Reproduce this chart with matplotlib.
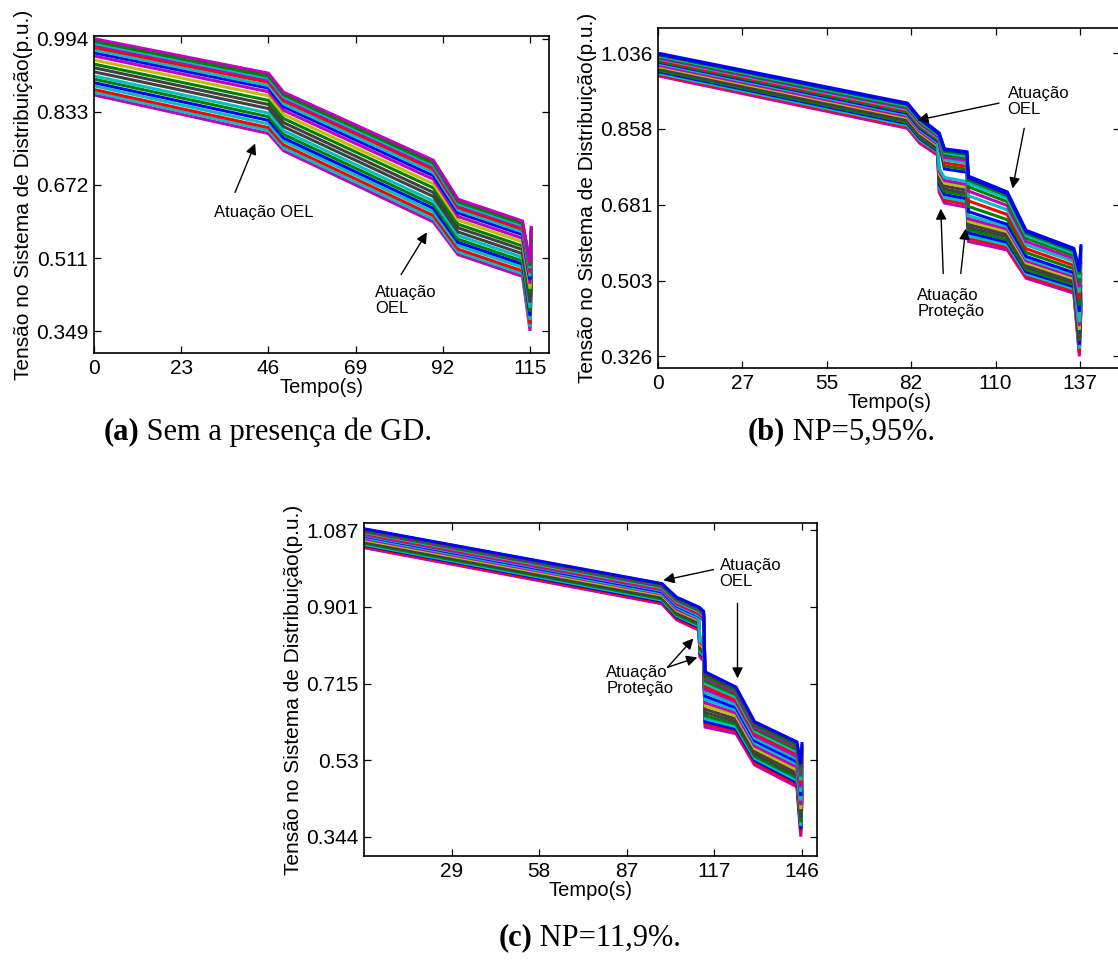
import matplotlib
matplotlib.use("Agg")
import matplotlib.pyplot as plt

plt.rcParams['font.family'] = ['Liberation Sans', 'DejaVu Sans']

# ---------------- data ----------------
# Panel (a): Sem a presença de GD
a_t = [0, 46, 50, 89.5, 96, 113, 115.0, 115.3]
a_v = [
    [0.870, 0.785, 0.747, 0.590, 0.518, 0.470, 0.350, 0.445],
    [0.876, 0.792, 0.753, 0.597, 0.524, 0.476, 0.358, 0.452],
    [0.882, 0.798, 0.760, 0.604, 0.530, 0.482, 0.365, 0.458],
    [0.890, 0.806, 0.768, 0.612, 0.538, 0.490, 0.374, 0.466],
    [0.897, 0.814, 0.775, 0.620, 0.545, 0.497, 0.383, 0.474],
    [0.905, 0.822, 0.783, 0.628, 0.552, 0.504, 0.392, 0.482],
    [0.912, 0.830, 0.791, 0.636, 0.560, 0.512, 0.401, 0.490],
    [0.921, 0.840, 0.800, 0.646, 0.568, 0.520, 0.412, 0.500],
    [0.930, 0.849, 0.809, 0.655, 0.577, 0.529, 0.422, 0.509],
    [0.938, 0.858, 0.818, 0.665, 0.585, 0.537, 0.433, 0.518],
    [0.947, 0.868, 0.827, 0.674, 0.594, 0.546, 0.443, 0.528],
    [0.956, 0.877, 0.836, 0.684, 0.602, 0.554, 0.454, 0.537],
    [0.963, 0.885, 0.844, 0.692, 0.610, 0.562, 0.463, 0.545],
    [0.969, 0.891, 0.850, 0.699, 0.616, 0.568, 0.470, 0.551],
    [0.975, 0.898, 0.857, 0.706, 0.622, 0.574, 0.478, 0.558],
    [0.980, 0.903, 0.862, 0.711, 0.627, 0.579, 0.484, 0.563],
    [0.984, 0.907, 0.866, 0.715, 0.630, 0.582, 0.488, 0.567],
    [0.988, 0.911, 0.870, 0.719, 0.634, 0.586, 0.493, 0.571],
    [0.992, 0.915, 0.873, 0.723, 0.638, 0.590, 0.497, 0.575],
    [0.994, 0.918, 0.876, 0.726, 0.640, 0.592, 0.500, 0.578],
]
a_xticks = [0, 23, 46, 69, 92, 115]
a_xticklabels = ['0', '23', '46', '69', '92', '115']
a_yticks = [0.349, 0.51025, 0.6715, 0.83275, 0.994]
a_yticklabels = ['0.349', '0.511', '0.672', '0.833', '0.994']

# Panel (b): NP=5,95%
b_t = [0, 81, 85, 90.8, 91.3, 93, 100.3, 100.8, 113.4, 119.5, 135, 136.8, 137.3]
b_v = [
    [0.983, 0.860, 0.825, 0.797, 0.710, 0.685, 0.675, 0.595, 0.575, 0.509, 0.474, 0.326, 0.430],
    [0.986, 0.864, 0.829, 0.800, 0.716, 0.692, 0.682, 0.602, 0.581, 0.514, 0.479, 0.335, 0.435],
    [0.989, 0.867, 0.832, 0.804, 0.722, 0.698, 0.688, 0.608, 0.587, 0.519, 0.484, 0.344, 0.440],
    [0.993, 0.871, 0.836, 0.807, 0.728, 0.705, 0.695, 0.615, 0.593, 0.524, 0.489, 0.353, 0.445],
    [0.996, 0.874, 0.839, 0.810, 0.734, 0.712, 0.702, 0.622, 0.599, 0.529, 0.494, 0.362, 0.450],
    [0.999, 0.878, 0.843, 0.814, 0.741, 0.718, 0.708, 0.628, 0.606, 0.535, 0.498, 0.370, 0.455],
    [1.002, 0.881, 0.846, 0.817, 0.747, 0.725, 0.715, 0.635, 0.612, 0.540, 0.503, 0.379, 0.460],
    [1.005, 0.885, 0.850, 0.820, 0.753, 0.732, 0.722, 0.642, 0.618, 0.545, 0.508, 0.388, 0.465],
    [1.008, 0.888, 0.853, 0.823, 0.759, 0.738, 0.728, 0.648, 0.624, 0.550, 0.513, 0.397, 0.470],
    [1.012, 0.892, 0.857, 0.827, 0.765, 0.745, 0.735, 0.655, 0.630, 0.555, 0.518, 0.406, 0.475],
    [1.015, 0.895, 0.860, 0.830, 0.827, 0.765, 0.757, 0.665, 0.635, 0.560, 0.522, 0.430, 0.490],
    [1.017, 0.898, 0.863, 0.833, 0.830, 0.772, 0.764, 0.677, 0.646, 0.569, 0.531, 0.445, 0.504],
    [1.020, 0.901, 0.866, 0.836, 0.833, 0.779, 0.771, 0.690, 0.658, 0.578, 0.539, 0.460, 0.519],
    [1.023, 0.904, 0.869, 0.838, 0.835, 0.786, 0.779, 0.702, 0.669, 0.587, 0.548, 0.475, 0.533],
    [1.025, 0.907, 0.872, 0.841, 0.838, 0.792, 0.785, 0.713, 0.679, 0.595, 0.555, 0.488, 0.545],
    [1.028, 0.910, 0.875, 0.844, 0.841, 0.798, 0.791, 0.723, 0.688, 0.603, 0.562, 0.500, 0.557],
    [1.030, 0.913, 0.878, 0.846, 0.843, 0.803, 0.795, 0.731, 0.696, 0.609, 0.568, 0.510, 0.566],
    [1.032, 0.915, 0.880, 0.848, 0.845, 0.806, 0.799, 0.738, 0.702, 0.614, 0.572, 0.518, 0.574],
    [1.034, 0.917, 0.882, 0.850, 0.847, 0.810, 0.803, 0.744, 0.707, 0.618, 0.576, 0.525, 0.580],
    [1.036, 0.919, 0.884, 0.852, 0.849, 0.812, 0.805, 0.748, 0.711, 0.621, 0.579, 0.530, 0.585],
]
b_xticks = [0, 27.4, 54.8, 82.2, 109.6, 137]
b_xticklabels = ['0', '27', '55', '82', '110', '137']
b_yticks = [0.326, 0.5035, 0.681, 0.8585, 1.036]
b_yticklabels = ['0.326', '0.503', '0.681', '0.858', '1.036']

# Panel (c): NP=11,9%
c_t = [0, 99.3, 104.2, 111.6, 112.0, 113.2, 113.7, 124.0, 130.2, 144.3, 145.6, 146.0]
c_v = [
    [1.045, 0.909, 0.870, 0.845, 0.780, 0.770, 0.610, 0.594, 0.518, 0.465, 0.344, 0.440],
    [1.048, 0.912, 0.873, 0.848, 0.784, 0.774, 0.617, 0.600, 0.523, 0.470, 0.353, 0.447],
    [1.051, 0.915, 0.877, 0.852, 0.789, 0.779, 0.623, 0.605, 0.529, 0.476, 0.362, 0.453],
    [1.053, 0.918, 0.880, 0.855, 0.793, 0.783, 0.630, 0.611, 0.534, 0.481, 0.370, 0.460],
    [1.056, 0.921, 0.883, 0.858, 0.798, 0.788, 0.637, 0.617, 0.539, 0.487, 0.379, 0.466],
    [1.059, 0.924, 0.887, 0.862, 0.802, 0.792, 0.645, 0.623, 0.545, 0.493, 0.390, 0.474],
    [1.062, 0.927, 0.890, 0.865, 0.807, 0.797, 0.653, 0.630, 0.552, 0.500, 0.400, 0.482],
    [1.064, 0.930, 0.893, 0.869, 0.811, 0.801, 0.661, 0.637, 0.558, 0.506, 0.411, 0.489],
    [1.067, 0.933, 0.896, 0.872, 0.816, 0.806, 0.669, 0.644, 0.564, 0.513, 0.421, 0.497],
    [1.070, 0.935, 0.900, 0.875, 0.820, 0.810, 0.677, 0.651, 0.571, 0.520, 0.432, 0.505],
    [1.073, 0.938, 0.903, 0.879, 0.877, 0.869, 0.685, 0.657, 0.577, 0.526, 0.443, 0.513],
    [1.075, 0.941, 0.906, 0.881, 0.879, 0.871, 0.693, 0.664, 0.583, 0.533, 0.453, 0.521],
    [1.077, 0.943, 0.909, 0.884, 0.882, 0.874, 0.701, 0.671, 0.589, 0.539, 0.464, 0.528],
    [1.080, 0.946, 0.911, 0.887, 0.885, 0.877, 0.708, 0.676, 0.595, 0.545, 0.472, 0.535],
    [1.082, 0.948, 0.914, 0.890, 0.888, 0.880, 0.715, 0.682, 0.600, 0.550, 0.481, 0.541],
    [1.084, 0.951, 0.917, 0.893, 0.891, 0.883, 0.721, 0.688, 0.605, 0.555, 0.490, 0.548],
    [1.086, 0.953, 0.919, 0.895, 0.893, 0.885, 0.728, 0.693, 0.610, 0.561, 0.499, 0.554],
    [1.088, 0.955, 0.921, 0.897, 0.895, 0.887, 0.733, 0.698, 0.615, 0.565, 0.506, 0.560],
    [1.090, 0.957, 0.923, 0.899, 0.897, 0.889, 0.739, 0.702, 0.619, 0.570, 0.513, 0.565],
    [1.091, 0.958, 0.925, 0.901, 0.899, 0.891, 0.744, 0.707, 0.623, 0.574, 0.520, 0.570],
]
c_xticks = [29.2, 58.4, 87.6, 116.8, 146]
c_xticklabels = ['29', '58', '87', '117', '146']
c_yticks = [0.344, 0.52975, 0.7155, 0.90125, 1.087]
c_yticklabels = ['0.344', '0.53', '0.715', '0.901', '1.087']

# ---------------- styles ----------------
ML = {'b': (0, 0, 1), 'g': (0, 0.5, 0), 'r': (1, 0, 0), 'c': (0, 0.75, 0.75),
      'm': (0.75, 0, 0.75), 'y': (0.75, 0.75, 0), 'k': (0.25, 0.25, 0.25)}
a_colors = ['m', 'c', 'r', 'c', 'b', 'g', 'c', 'k', 'k', 'g', 'y', 'm', 'b', 'c', 'r', 'm', 'c', 'g', 'g', 'm']
b_colors = ['m', 'r', 'c', 'b', 'g', 'k', 'k', 'y', 'm', 'c', 'b', 'g', 'r', 'c', 'm', 'g', 'c', 'g', 'b', 'b']
c_colors = ['m', 'r', 'b', 'c', 'g', 'k', 'k', 'y', 'm', 'c', 'b', 'c', 'm', 'r', 'c', 'g', 'm', 'g', 'k', 'b']

W, H = 1118, 965
fig = plt.figure(figsize=(W / 100, H / 100), dpi=100)


def px_axes(left, top, right, bottom):
    return fig.add_axes([left / W, 1 - bottom / H, (right - left) / W, (bottom - top) / H])


def style(ax, xlim, ylim, xt, xtl, yt, ytl):
    ax.set_xlim(*xlim)
    ax.set_ylim(*ylim)
    ax.set_xticks(xt)
    ax.set_xticklabels(xtl)
    ax.set_yticks(yt)
    ax.set_yticklabels(ytl)
    ax.tick_params(direction='in', top=True, right=True, length=5, width=0.9,
                   labelsize=15, pad=4)
    for s in ax.spines.values():
        s.set_linewidth(1.2)
    ax.set_xlabel('Tempo(s)', fontsize=14.5, labelpad=0)
    ax.set_ylabel('Tensão no Sistema de Distribuição(p.u.)', fontsize=15, labelpad=2)


def draw(ax, t, vals, cols):
    for v, c in zip(vals, cols):
        ax.plot(t, v, color=ML[c], lw=2.2, solid_joinstyle='miter')


def arrow(ax, tail, head):
    ax.annotate('', xy=head, xytext=tail,
                arrowprops=dict(arrowstyle='-|>', color='k', lw=1.0,
                                mutation_scale=16, shrinkA=0, shrinkB=0))


# Panel a
axa = px_axes(94, 36, 549, 353)
draw(axa, a_t, a_v, a_colors)
style(axa, (0, 120), (0.301, 1.0), a_xticks, a_xticklabels, a_yticks, a_yticklabels)
axa.text(44.8, 0.610, 'Atuação OEL', fontsize=12, ha='center', va='center')
arrow(axa, (37.2, 0.655), (42.5, 0.763))
axa.text(74.1, 0.417, 'Atuação\nOEL', fontsize=12, ha='left', va='center', linespacing=1.1)
arrow(axa, (81.0, 0.474), (87.8, 0.567))

# Panel b
axb = px_axes(658, 28, 1120, 368)
draw(axb, b_t, b_v, b_colors)
style(axb, (0, 150), (0.2986, 1.095), b_xticks, b_xticklabels, b_yticks, b_yticklabels)
axb.text(113.5, 0.923, 'Atuação\nOEL', fontsize=12, ha='left', va='center', linespacing=1.1)
arrow(axb, (110.7, 0.919), (84.2, 0.879))
arrow(axb, (118.9, 0.860), (115.1, 0.719))
axb.text(84.2, 0.450, 'Atuação\nProteção', fontsize=12, ha='left', va='center', linespacing=1.1)
arrow(axb, (92.6, 0.520), (91.8, 0.672))
arrow(axb, (98.3, 0.520), (99.9, 0.625))

# Panel c
axc = px_axes(364, 523, 817, 856)
draw(axc, c_t, c_v, c_colors)
style(axc, (0, 151), (0.2972, 1.105), c_xticks, c_xticklabels, c_yticks, c_yticklabels)
axc.text(118.5, 0.982, 'Atuação\nOEL', fontsize=12, ha='left', va='center', linespacing=1.1)
arrow(axc, (116.5, 0.992), (99.8, 0.966))
arrow(axc, (124.5, 0.910), (124.5, 0.728))
axc.text(80.8, 0.722, 'Atuação\nProteção', fontsize=12, ha='left', va='center', linespacing=1.1)
arrow(axc, (101.2, 0.755), (109.8, 0.825))
arrow(axc, (101.2, 0.755), (111.1, 0.779))

# Captions (bold label + regular text), centred on given x
serif = ['Liberation Serif', 'DejaVu Serif']
captions = [(268, 432, '(a)', ' Sem a presença de GD.'),
            (841, 432, '(b)', ' NP=5,95%.'),
            (590, 938, '(c)', ' NP=11,9%.')]
fig.canvas.draw()
rend = fig.canvas.get_renderer()
for xc, y, bold, rest in captions:
    t1 = fig.text(0, 1 - y / H, bold, fontsize=22, fontweight='bold',
                  family=serif, ha='left', va='center')
    t2 = fig.text(0, 1 - y / H, rest, fontsize=22, family=serif, ha='left', va='center')
    w1 = t1.get_window_extent(renderer=rend).width
    w2 = t2.get_window_extent(renderer=rend).width
    x0 = xc - (w1 + w2) / 2
    t1.set_x(x0 / W)
    t2.set_x((x0 + w1) / W)

fig.savefig('out.png', dpi=100)
